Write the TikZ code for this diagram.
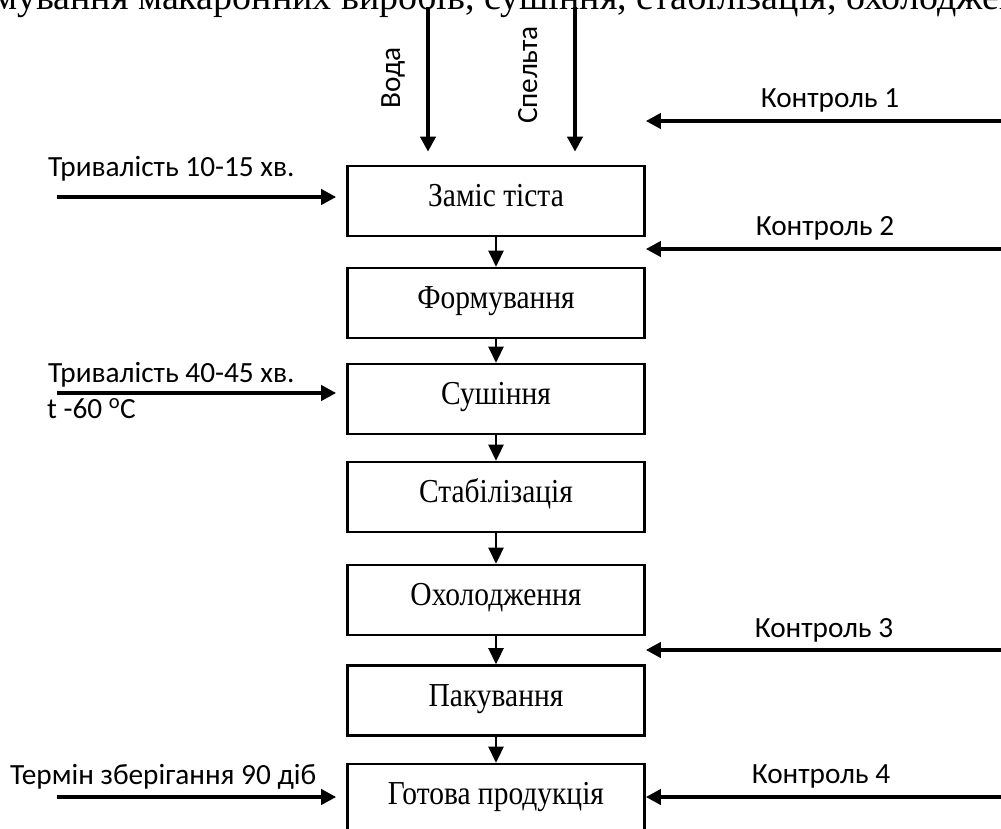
\documentclass[tikz,border=0pt]{standalone}
\usepackage{fontspec}
\setmainfont{Liberation Serif}
\newfontfamily\calib{Carlito}
\newfontfamily\boxfont{Liberation Serif}[FakeStretch=0.88]
\usetikzlibrary{arrows.meta}
\begin{document}
\begin{tikzpicture}[x=1pt,y=-1pt,
  box/.style={draw, line width=2.6pt, minimum width=297pt, minimum height=70pt,
    inner sep=0pt, text height=21pt, text depth=10pt,
    font=\boxfont\fontsize{33.5}{38}\selectfont},
  flow/.style={line width=2.6pt, -{Triangle[length=16pt,width=15pt]}},
  feed/.style={line width=4pt, -{Triangle[length=15pt,width=15pt]}},
  lbl/.style={font=\calib\fontsize{29.3}{34}\selectfont, inner sep=0pt},
]
\useasboundingbox (0,0) rectangle (1001,829);
% top caption (cut off by the page edge)
\node[font=\fontsize{38}{42}\selectfont, anchor=base west, inner sep=0pt] (title) at (341,10)
  {\llap{мування макаронних }виробів, сушіння, стабілізація, охолодження};
% process boxes
\node[box] (b1) at (496,201) {Заміс тіста};
\node[box] (b2) at (496,303) {Формування};
\node[box] (b3) at (496,399) {Сушіння};
\node[box] (b4) at (496,497) {Стабілізація};
\node[box] (b5) at (496,600) {Охолодження};
\node[box] (b6) at (496,700.5) {Пакування};
\node[box] (b7) at (496,799) {Готова продукція};
\foreach \a/\b in {b1/b2,b2/b3,b3/b4,b4/b5,b5/b6,b6/b7}
  \draw[flow] (\a.south) -- (\b.north);
% inputs from top
\coordinate (vodaTop) at (428,7);
\coordinate (speltTop) at (575,7);
\draw[feed, shorten >=13pt] (vodaTop) -- (vodaTop |- b1.north);
\draw[feed, shorten >=13pt] (speltTop) -- (speltTop |- b1.north);
\node[lbl, rotate=90, anchor=base] (voda) at (400,78) {Вода};
\node[lbl, rotate=90, anchor=base] (spelta) at (537,75) {Спельта};
% inputs from left
\coordinate (t1) at (57,197);
\coordinate (t2) at (57,393);
\coordinate (t3) at (57,797);
\draw[feed, shorten >=10pt] (t1) -- (t1 -| b1.west);
\draw[feed, shorten >=10pt] (t2) -- (t2 -| b3.west);
\draw[feed, shorten >=10pt] (t3) -- (t3 -| b7.west);
\node[lbl, anchor=base west] (l1) at (48,177) {Тривалість 10-15 хв.};
\node[lbl, anchor=base west] (l2) at (48,382) {Тривалість 40-45 хв.};
\node[lbl, anchor=base west] (l3) at (47,418) {t -60 \textsuperscript{o}C};
\node[lbl, anchor=base west] (l4) at (10,784) {Термін зберігання 90 діб};
% controls from right
\coordinate (k1) at (1010,121);
\coordinate (k2) at (1010,249);
\coordinate (k3) at (1010,650);
\coordinate (k4) at (1010,797);
\draw[feed] (k1) -- (k1 -| b1.east);
\draw[feed] (k2) -- (k2 -| b1.east);
\draw[feed] (k3) -- (k3 -| b5.east);
\draw[feed] (k4) -- (k4 -| b7.east);
\node[lbl, anchor=base] (c1) at (830,108) {Контроль 1};
\node[lbl, anchor=base] (c2) at (825,236) {Контроль 2};
\node[lbl, anchor=base] (c3) at (824,637) {Контроль 3};
\node[lbl, anchor=base] (c4) at (821,783) {Контроль 4};
\end{tikzpicture}
\end{document}
